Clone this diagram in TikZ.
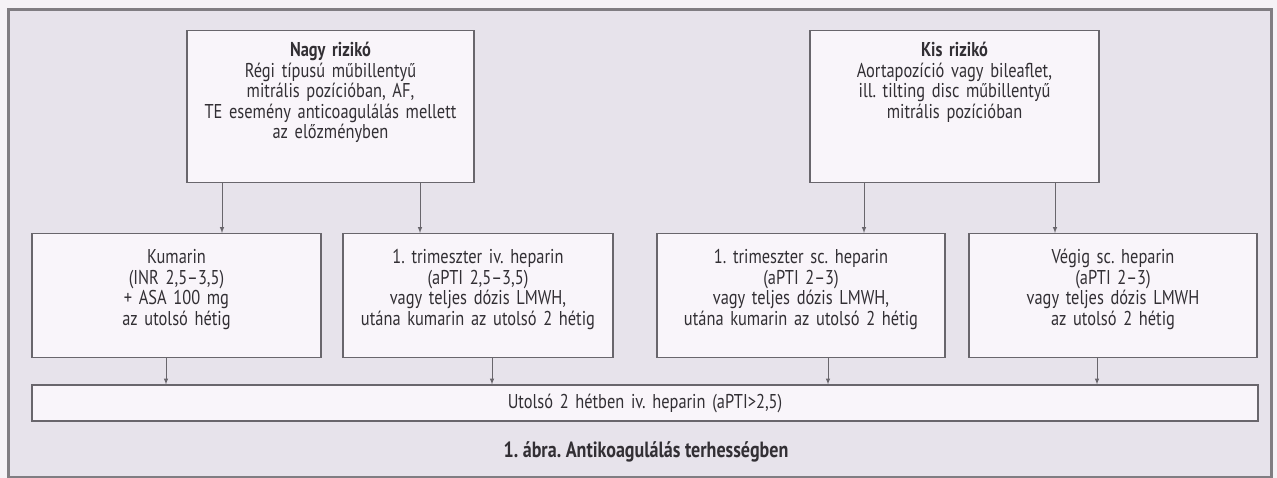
\documentclass[tikz,border=0pt]{standalone}
\usepackage{fontspec}
\setmainfont[FakeStretch=0.82]{PT Sans}
\frenchspacing
\definecolor{bgout}{RGB}{245,242,246}
\definecolor{bgin}{RGB}{231,227,235}
\definecolor{boxfill}{RGB}{249,245,250}
\definecolor{linegray}{RGB}{105,102,108}
\definecolor{inkgray}{RGB}{50,47,52}
\tikzset{
  box/.style={draw=linegray, line width=1.2pt, fill=boxfill, align=center,
    inner xsep=0pt, text=inkgray, font=\fontsize{20}{20.5}\selectfont},
  riskbox/.style={box, anchor=north, inner ysep=11pt, text height=15pt, text depth=115pt},
  therbox/.style={box, anchor=north, inner ysep=15pt, text height=15pt, text depth=79pt},
}
\begin{document}
\begin{tikzpicture}[x=1pt,y=-1pt,>=latex]
\useasboundingbox[fill=bgout] (0,0) rectangle (1277,478);
\draw[draw=linegray!85, line width=3pt, fill=bgin] (8,10) rectangle (1271,477);

\node[riskbox, text width=287pt] (nagy) at (330.5,30)
  {\textbf{Nagy rizikó}\\Régi típusú műbillentyű\\mitrális pozícióban, AF,\\TE esemény anticoagulálás mellett\\az előzményben};
\node[riskbox, text width=289pt] (kis) at (954.5,30)
  {\textbf{Kis rizikó}\\Aortapozíció vagy bileaflet,\\ill. tilting disc műbillentyű\\mitrális pozícióban};

\node[therbox, text width=289pt] (kum) at (176.5,233)
  {Kumarin\\(INR 2,5--3,5)\\+ ASA 100 mg\\az utolsó hétig};
\node[therbox, text width=270pt] (ivhep) at (478,233)
  {1. trimeszter iv. heparin\\(aPTI 2,5--3,5)\\vagy teljes dózis LMWH,\\utána kumarin az utolsó 2 hétig};
\node[therbox, text width=288pt] (schep) at (801,233)
  {1. trimeszter sc. heparin\\(aPTI 2--3)\\vagy teljes dózis LMWH,\\utána kumarin az utolsó 2 hétig};
\node[therbox, text width=288pt] (vegig) at (1113,233)
  {Végig sc. heparin\\(aPTI 2--3)\\vagy teljes dózis LMWH\\az utolsó 2 hétig};

\node[box, text width=1226pt, minimum height=36pt, inner ysep=0pt] (utolso) at (645,403)
  {Utolsó 2 hétben iv. heparin (aPTI>2,5)};

\node[text=inkgray, font=\fontsize{22}{24}\selectfont\bfseries] (cap) at (646,452)
  {1. ábra. Antikoagulálás terhességben};

\foreach \from/\to/\dx in {nagy/kum/-108.5,nagy/ivhep/89.5,kis/schep/-90.5,kis/vegig/100.5}
{
    \draw[->, draw=linegray, line width=1pt] ([xshift=\dx pt]\from.south) -- ([xshift=\dx pt]\from.south |- \to.north);
}
\foreach \from/\dx in {kum/-10.5,ivhep/14,schep/27,vegig/-16}
{
    \draw[->, draw=linegray, line width=1pt] ([xshift=\dx pt]\from.south) -- ([xshift=\dx pt]\from.south |- utolso.north);
}
\end{tikzpicture}
\end{document}
